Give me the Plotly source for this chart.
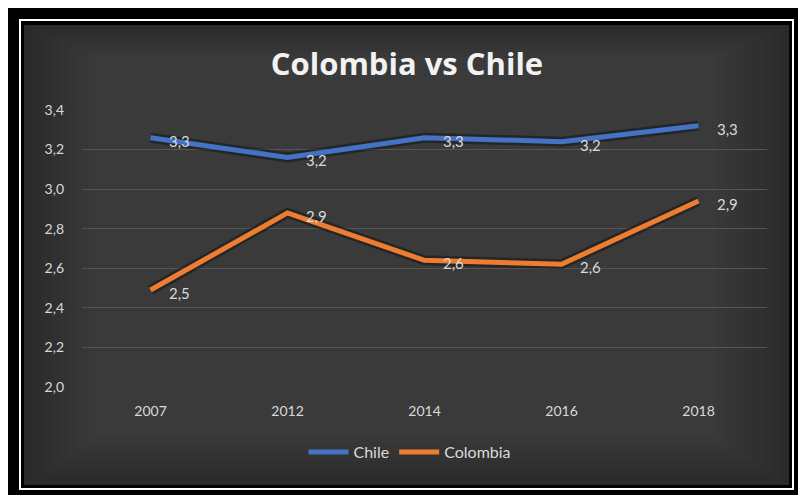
import plotly.graph_objects as go

# Chart data
years = ["2007", "2012", "2014", "2016", "2018"]
chile = [3.26, 3.16, 3.26, 3.24, 3.32]
colombia = [2.49, 2.88, 2.64, 2.62, 2.94]
y_ticks = [2.0, 2.2, 2.4, 2.6, 2.8, 3.0, 3.2, 3.4]

W, H = 798, 495
L, R, T, B = 82, 31, 110, 108
PW, PH = W - L - R, H - T - B


def px(x):
    return (x - L) / PW


def py(y):
    return (H - B - y) / PH


def fmt(v):
    return f"{v:.1f}".replace(".", ",")


BLUE = "#4472C4"
ORANGE = "#ED7D31"
TXT = "#d9d9d9"
FONT = "Lato"

fig = go.Figure()

for name, vals, col in [("Chile", chile, BLUE), ("Colombia", colombia, ORANGE)]:
    # soft dark shadow under each line
    fig.add_trace(go.Scatter(x=years, y=vals, mode="lines", showlegend=False,
                             hoverinfo="skip",
                             line=dict(color="rgba(0,0,0,0.35)", width=10)))
    fig.add_trace(go.Scatter(x=years, y=vals, mode="lines", name=name,
                             line=dict(color=col, width=5)))

annotations = []
for vals in (chile, colombia):
    for i, v in enumerate(vals):
        annotations.append(dict(x=i, y=v, xref="x", yref="y", text=fmt(v),
                                showarrow=False, xanchor="left", yanchor="middle",
                                xshift=16, yshift=-3,
                                font=dict(family=FONT, size=15, color=TXT)))

shapes = [
    # outer frame
    dict(type="rect", xref="paper", yref="paper", x0=px(8), x1=px(798),
         y0=py(495), y1=py(8), fillcolor="#000000", line=dict(width=0), layer="below"),
    dict(type="rect", xref="paper", yref="paper", x0=px(20), x1=px(793),
         y0=py(489), y1=py(20), fillcolor="rgba(0,0,0,0)",
         line=dict(color="#ffffff", width=2), layer="below"),
    # chart area
    dict(type="rect", xref="paper", yref="paper", x0=px(24), x1=px(789),
         y0=py(485), y1=py(25), fillcolor="#2a2a2a", line=dict(width=0), layer="below"),
]
# lighter centre of chart area
for i in range(1, 9):
    shapes.append(dict(type="rect", xref="paper", yref="paper",
                       x0=px(24 + i * 9), x1=px(789 - i * 9),
                       y0=py(485 - i * 6), y1=py(25 + i * 4),
                       fillcolor="rgba(255,255,255,0.013)", line=dict(width=0),
                       layer="below"))

fig.update_layout(
    width=W, height=H,
    margin=dict(l=L, r=R, t=T, b=B),
    paper_bgcolor="#ffffff",
    plot_bgcolor="rgba(0,0,0,0)",
    title=dict(text="<b>Colombia vs Chile</b>", x=407 / W, xref="container",
               xanchor="center", y=1 - 64 / H, yref="container", yanchor="middle",
               font=dict(family="Open Sans", size=31, color="#f2f2f2")),
    xaxis=dict(type="category", categoryorder="array", categoryarray=years,
               range=[-0.5, len(years) - 0.5], showgrid=False, zeroline=False,
               showline=False, tickfont=dict(family=FONT, size=14, color=TXT),
               ticks="", ticklabelstandoff=14),
    yaxis=dict(range=[2.0, 3.4], tickvals=y_ticks, ticktext=[fmt(v) for v in y_ticks],
               showgrid=True, gridcolor="#555555", gridwidth=1, zeroline=False,
               showline=False, ticks="", ticklabelstandoff=17,
               tickfont=dict(family=FONT, size=14, color=TXT)),
    legend=dict(orientation="h", x=(410 - L) / PW, xanchor="center",
                y=-(452 - (H - B)) / PH, yanchor="middle", bgcolor="rgba(0,0,0,0)",
                font=dict(family=FONT, size=16, color=TXT), itemwidth=40),
    shapes=shapes,
    annotations=annotations,
    showlegend=True,
)

fig.write_html("out.html")
